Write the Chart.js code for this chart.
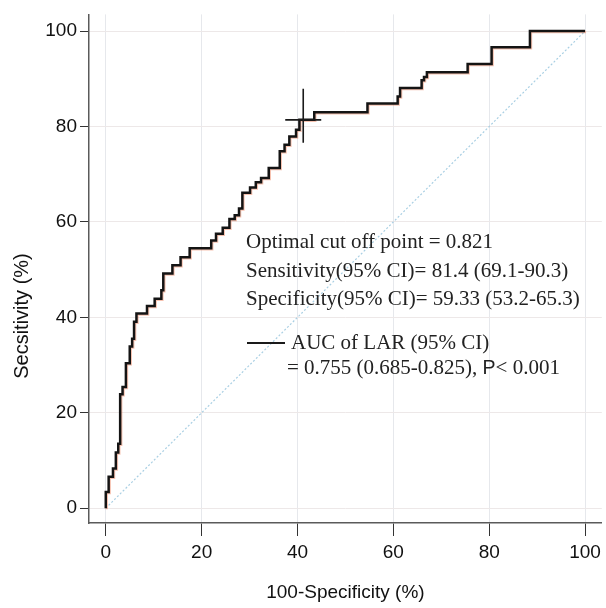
<!DOCTYPE html>
<html>
<head>
<meta charset="utf-8">
<script src="https://cdn.jsdelivr.net/npm/chart.js@4.4.1/dist/chart.umd.min.js"></script>
<style>
  html, body { margin: 0; padding: 0; background: #fff; }
  #wrap { width: 606px; height: 608px; position: relative; }
</style>
</head>
<body>
<div id="wrap"><canvas id="roc"></canvas></div>
<script>
// ROC curve of LAR, step corners
const fpr  = [0, 0, 0.6, 1.5, 2.1, 2.6, 3.0, 3.5, 4.2, 5.0, 5.5, 5.9, 6.4, 8.6, 10.2, 11.6, 12.0, 13.9, 15.6, 17.5,
              22.0, 23.0, 24.4, 25.8, 26.9, 27.8, 28.5, 30.1, 31.3, 32.4, 34.0, 36.3, 37.3, 38.3, 39.7, 40.4,
              43.5, 54.6, 60.9, 61.4, 65.9, 66.4, 67.0, 75.5, 80.5, 88.5, 100];
const sens = [0, 3.4, 6.6, 8.3, 11.7, 13.5, 23.9, 25.4, 30.4, 33.9, 35.5, 39.1, 40.8, 42.4, 43.9, 45.7, 49.2, 50.9, 52.6, 54.5,
              56.1, 57.5, 58.8, 60.6, 61.4, 62.8, 66.1, 67.2, 68.3, 69.2, 71.3, 74.8, 76.2, 77.9, 79.3, 81.4,
              83.0, 84.8, 86.3, 88.1, 89.7, 90.4, 91.4, 93.1, 96.6, 100, 100];
const refX = [0, 100];
const refY = [0, 100];
const cutPoint = { x: 41.2, y: 81.4 };
const tickVals = [0, 20, 40, 60, 80, 100];
const yTitle = "Secsitivity (%)";
const infoLines = [
  "Optimal cut off point = 0.821",
  "Sensitivity(95% CI)= 81.4 (69.1-90.3)",
  "Specificity(95% CI)= 59.33 (53.2-65.3)"
];
const legendLine1 = "AUC of LAR (95% CI)";
const legendLine2 = "= 0.755 (0.685-0.825), ";

const serif = "'Liberation Serif', 'Times New Roman', serif";
const sans = "'Liberation Sans', Arial, Helvetica, sans-serif";

const extras = {
  id: "extras",
  beforeDatasetDraw(chart, args) {
    if (args.index !== 1) return;
    const ctx = chart.ctx;
    ctx.save();
    ctx.shadowColor = "rgba(235,120,80,0.45)";
    ctx.shadowOffsetX = 1;
    ctx.shadowOffsetY = 1;
  },
  afterDatasetDraw(chart, args) {
    if (args.index === 1) chart.ctx.restore();
  },
  afterDatasetsDraw(chart) {
    const ctx = chart.ctx;
    const xs = chart.scales.x, ys = chart.scales.y;
    // crosshair at the optimal cut off point
    const cx = xs.getPixelForValue(cutPoint.x);
    const cy = ys.getPixelForValue(cutPoint.y);
    ctx.save();
    ctx.strokeStyle = "#1a1a1a";
    ctx.lineWidth = 1.6;
    ctx.beginPath();
    ctx.moveTo(cx - 18, cy); ctx.lineTo(cx + 18, cy);
    ctx.moveTo(cx, cy - 31); ctx.lineTo(cx, cy + 23);
    ctx.stroke();

    // annotation text
    ctx.fillStyle = "#222";
    ctx.font = "21px " + serif;
    ctx.textBaseline = "alphabetic";
    ctx.textAlign = "left";
    infoLines.forEach((t, i) => ctx.fillText(t, 246, 248 + i * 28.5));

    // legend
    ctx.strokeStyle = "#1a1a1a";
    ctx.lineWidth = 2;
    ctx.beginPath();
    ctx.moveTo(247, 343); ctx.lineTo(285, 343);
    ctx.stroke();
    ctx.fillText(legendLine1, 291, 349);
    ctx.fillText(legendLine2, 287, 374);
    const w = ctx.measureText(legendLine2).width;
    ctx.font = "19.5px " + sans;
    ctx.fillText("P", 287 + w, 374);
    const wp = ctx.measureText("P").width;
    ctx.font = "21px " + serif;
    ctx.fillText("< 0.001", 287 + w + wp, 374);

    // y axis title (sits lower than the plot centre in the original)
    ctx.translate(22, 316);
    ctx.rotate(-Math.PI / 2);
    ctx.font = "20px " + sans;
    ctx.fillStyle = "#111";
    ctx.textAlign = "center";
    ctx.textBaseline = "middle";
    ctx.fillText(yTitle, 0, 0);
    ctx.restore();
  }
};

new Chart(document.getElementById("roc"), {
  type: "line",
  data: {
    datasets: [
      {
        label: "reference",
        data: refX.map((x, i) => ({ x: x, y: refY[i] })),
        borderColor: "#a9cfe3",
        borderWidth: 1.2,
        borderDash: [2, 2],
        pointRadius: 0,
        order: 2
      },
      {
        label: "AUC of LAR",
        data: fpr.map((x, i) => ({ x: x, y: sens[i] })),
        borderColor: "#141414",
        borderWidth: 2.5,
        stepped: "before",
        pointRadius: 0,
        order: 1
      }
    ]
  },
  plugins: [extras],
  options: {
    responsive: true,
    maintainAspectRatio: false,
    animation: false,
    layout: { padding: { top: 10, right: 3, left: 0, bottom: 0 } },
    plugins: { legend: { display: false }, tooltip: { enabled: false } },
    scales: {
      x: {
        type: "linear",
        min: -3.5,
        max: 103.5,
        afterBuildTicks: (s) => { s.ticks = tickVals.map(v => ({ value: v })); },
        afterFit: (s) => { s.height = 85; },
        grid: { color: "#e6e8ec", tickColor: "#333", tickLength: 13, lineWidth: 1 },
        border: { color: "#5a5a5a", width: 1.5 },
        ticks: { color: "#111", font: { family: sans, size: 19 }, padding: 5, maxRotation: 0 },
        title: { display: true, text: "100-Specificity (%)", color: "#111", font: { family: sans, size: 19 }, padding: { top: 10 } }
      },
      y: {
        type: "linear",
        min: -3.1,
        max: 103.5,
        afterBuildTicks: (s) => { s.ticks = tickVals.map(v => ({ value: v })); },
        afterFit: (s) => { s.width = 89; },
        grid: { color: "#ede8e8", tickColor: "#333", tickLength: 9, lineWidth: 1 },
        border: { color: "#5a5a5a", width: 1.5 },
        ticks: { color: "#111", font: { family: sans, size: 19 }, padding: 3 },
        title: { display: false }
      }
    }
  }
});
</script>
</body>
</html>
